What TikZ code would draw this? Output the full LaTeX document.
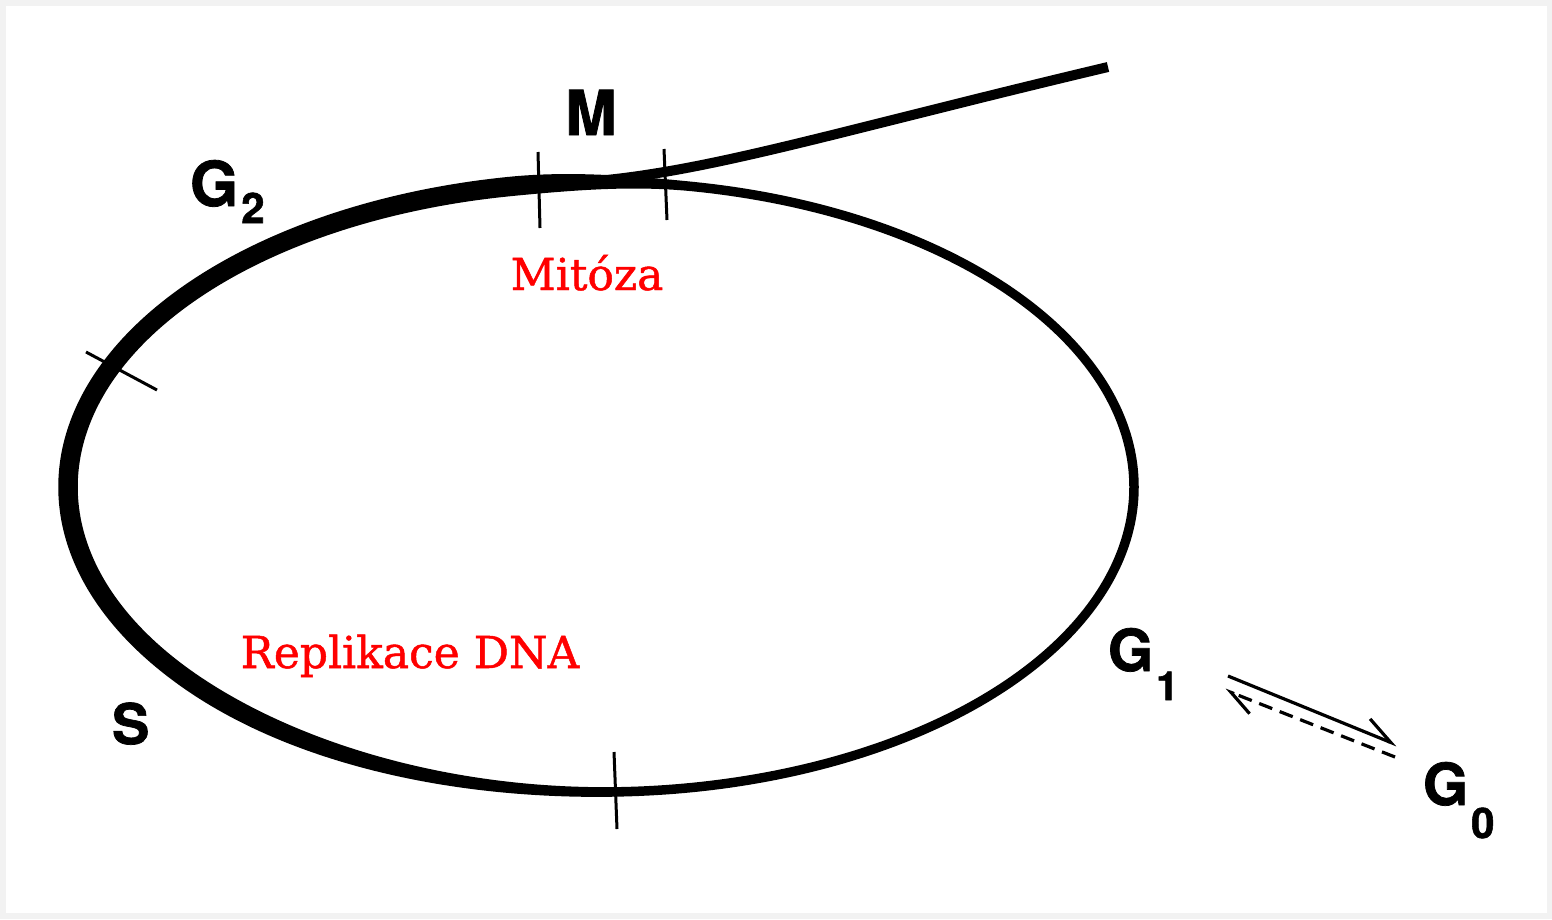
\documentclass[tikz,border=0pt]{standalone}
\usepackage{fontspec}
\newfontfamily\herosfam{TeX Gyre Heros}[BoldFeatures={FakeBold=1.3}]
\newfontfamily\serifred{DejaVu Serif}[FakeBold=1.1]
\usetikzlibrary{arrows.meta}
\newcommand{\lblfont}[1]{\herosfam\bfseries\fontsize{#1}{#1}\selectfont}
\newcommand{\redfont}{\serifred\fontsize{44}{46}\selectfont}
\tikzset{
  declare function={
    wa(\t)=0.5-0.5*cos(180*min(1,max(0,(\t-80)/20)));
    wb(\t)=0.5-0.5*cos(180*min(1,max(0,(275-\t)/55)));
    th(\t)=9.5+10*min(wa(\t),wb(\t));},
  phase/.style={inner sep=0pt, outer sep=0pt, anchor=base west, text=black},
  note/.style={inner sep=0pt, outer sep=0pt, anchor=base, text=red},
  tickmark/.style={line width=3pt, line cap=butt},
  tailline/.style={line width=10pt, line cap=butt, line join=round},
  toG0/.style={line width=3.2pt, -{Straight Barb[left, length=28pt, width=28pt, line width=3.2pt]}},
  toG1/.style={line width=3.2pt, dash pattern=on 14pt off 8pt, -{Straight Barb[left, length=25pt, width=26pt, line width=3.2pt]}}
}
\begin{document}
\begin{tikzpicture}[x=1pt, y=-1pt]
\useasboundingbox (0,0) rectangle (1552,919);
\fill[black!5] (0,0) rectangle (1552,919);
\fill[white] (6,6) rectangle (1547,913);

% cell cycle ring with varying thickness
\fill[black]
  plot[domain=0:360, samples=361] ({601+(533+0.5*th(\x))*cos(\x)}, {487-(305+0.5*th(\x))*sin(\x)})
  -- plot[domain=360:0, samples=361] ({601+(533-0.5*th(\x))*cos(\x)}, {487-(305-0.5*th(\x))*sin(\x)})
  -- cycle;

% tail leaving after mitosis
\coordinate (tailstart) at (540,184);
\coordinate (tailend) at (1108,67);
\draw[tailline] (tailstart) .. controls (680,182) and (800,140) .. (tailend);

% tick marks
\draw[tickmark] (538,152) -- (540,228);
\draw[tickmark] (664,149) -- (667,220);
\draw[tickmark] (86,352) -- (157,390);
\draw[tickmark] (614,752) -- (617,829);

% phase labels
\node[phase, anchor=base] (M) at (591,135) {\lblfont{62}M};
\node[phase] (G2) at (190,206) {\lblfont{62}G\kern3pt\raisebox{-17pt}{\lblfont{42}2}};
\node[phase] (S) at (112,744) {\lblfont{56}S};
\node[phase] (G1) at (1108,671) {\lblfont{58}G\kern3pt\raisebox{-29pt}{\lblfont{40}1}};
\node[phase] (G0) at (1423,805) {\lblfont{58}G\kern3pt\raisebox{-33pt}{\lblfont{42}0}};

% red notes
\node[note] (mitoza) at (587,290) {\redfont Mitóza};
\node[note] (repl) at (410,668) {\redfont Replikace DNA};

% G1 <-> G0 arrows
\coordinate (a1s) at (1228,676);
\coordinate (a1e) at (1397,745);
\coordinate (a2s) at (1395,757);
\coordinate (a2e) at (1225,690);
\draw[toG0] (a1s) -- (a1e);
\draw[toG1] (a2s) -- (a2e);
\end{tikzpicture}
\end{document}
